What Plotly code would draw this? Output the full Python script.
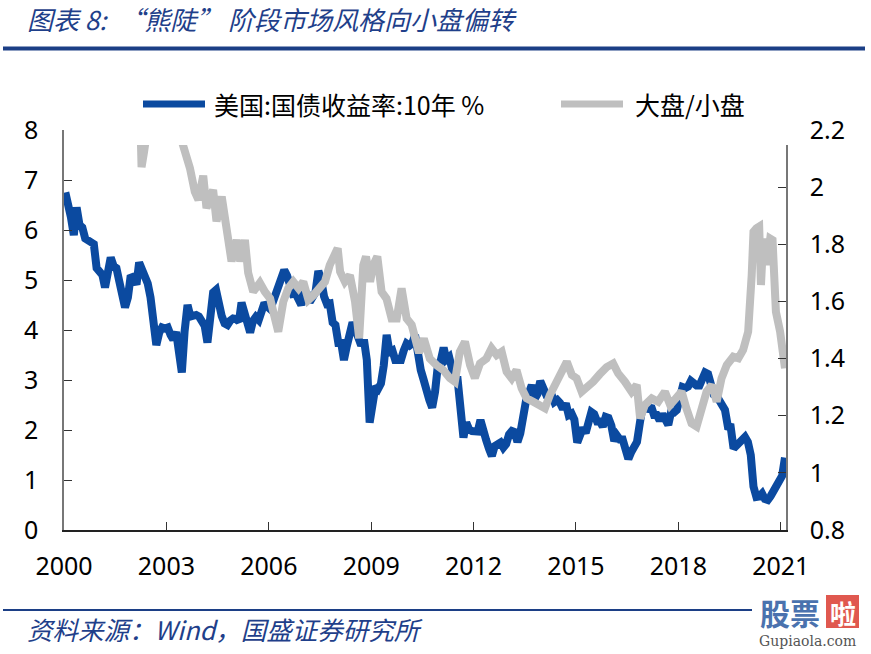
import pandas as pd
import plotly.graph_objects as go

# ---------------- data ----------------
# US 10Y Treasury yield (%), monthly, Jan 2000 - Feb 2021
us10y_start = "2000-01"
us10y_values = [
    6.75, 6.52, 6.26, 5.90, 6.45, 6.10, 6.05, 5.83, 5.80, 5.74, 5.72, 5.24,   # 2000
    5.16, 5.10, 4.85, 5.14, 5.45, 5.28, 5.24, 4.97, 4.73, 4.45, 4.65, 5.09,   # 2001
    5.04, 4.91, 5.35, 5.21, 5.16, 4.93, 4.65, 4.26, 3.70, 3.94, 4.05, 4.03,   # 2002
    4.05, 3.90, 3.81, 3.96, 3.57, 3.15, 3.98, 4.50, 4.27, 4.29, 4.30, 4.27,   # 2003
    4.15, 4.08, 3.75, 4.35, 4.75, 4.80, 4.50, 4.28, 4.13, 4.10, 4.19, 4.23,   # 2004
    4.22, 4.17, 4.55, 4.34, 4.14, 3.95, 4.18, 4.26, 4.20, 4.46, 4.54, 4.47,   # 2005
    4.42, 4.57, 4.72, 4.99, 5.11, 5.20, 5.09, 4.88, 4.72, 4.73, 4.60, 4.50,   # 2006
    4.76, 4.72, 4.56, 4.69, 4.75, 5.18, 5.00, 4.67, 4.52, 4.53, 4.15, 4.10,   # 2007
    3.74, 3.74, 3.40, 3.68, 3.88, 4.15, 4.01, 3.89, 3.69, 3.81, 3.40, 2.15,   # 2008
    2.52, 2.87, 2.82, 2.93, 3.29, 3.90, 3.56, 3.59, 3.40, 3.39, 3.40, 3.59,   # 2009
    3.73, 3.69, 3.73, 3.90, 3.42, 3.20, 3.01, 2.70, 2.60, 2.45, 2.76, 3.29,   # 2010
    3.39, 3.65, 3.41, 3.46, 3.17, 3.00, 3.00, 2.30, 1.85, 2.15, 2.01, 1.98,   # 2011
    1.97, 1.97, 2.20, 2.05, 1.80, 1.62, 1.48, 1.68, 1.72, 1.75, 1.65, 1.72,   # 2012
    1.91, 1.98, 1.96, 1.76, 1.93, 2.30, 2.58, 2.74, 2.90, 2.62, 2.72, 2.98,   # 2013
    2.86, 2.71, 2.72, 2.71, 2.56, 2.60, 2.54, 2.42, 2.53, 2.30, 2.33, 2.21,   # 2014
    1.75, 1.98, 2.04, 1.94, 2.20, 2.36, 2.32, 2.17, 2.17, 2.07, 2.26, 2.24,   # 2015
    2.09, 1.78, 1.89, 1.81, 1.81, 1.64, 1.42, 1.56, 1.63, 1.76, 2.14, 2.49,   # 2016
    2.43, 2.42, 2.48, 2.30, 2.30, 2.19, 2.32, 2.21, 2.10, 2.36, 2.35, 2.40,   # 2017
    2.58, 2.86, 2.84, 2.87, 2.98, 2.91, 2.89, 2.89, 3.00, 3.15, 3.12, 2.83,   # 2018
    2.71, 2.68, 2.57, 2.53, 2.40, 2.07, 2.06, 1.63, 1.70, 1.71, 1.81, 1.86,   # 2019
    1.76, 1.50, 0.87, 0.66, 0.67, 0.73, 0.62, 0.60, 0.68, 0.79, 0.87, 0.93,   # 2020
    1.08, 1.45,                                                               # 2021
]
us10y_dates = pd.date_range(us10y_start, periods=len(us10y_values), freq="MS") + pd.Timedelta(days=14)

# Large-cap / small-cap ratio (right axis); values above the visible range are clipped
ratio_dates = [
    "2002-03-20", "2002-03-25", "2002-04-10", "2002-05-05", "2002-06-01", "2002-06-20",
    "2003-06-01", "2003-06-25", "2003-09-10", "2003-11-01", "2003-12-10", "2004-01-30",
    "2004-03-05", "2004-05-15", "2004-06-20", "2004-08-15", "2004-10-08", "2004-11-28",
    "2005-01-22", "2005-03-01", "2005-04-20", "2005-05-25", "2005-07-18", "2005-09-27",
    "2005-11-20", "2006-01-15", "2006-02-18", "2006-04-12", "2006-06-05", "2006-07-28",
    "2006-09-20", "2006-11-15", "2007-01-05", "2007-03-01", "2007-04-20", "2007-07-01",
    "2007-08-25", "2007-10-15", "2007-12-10", "2008-01-08", "2008-02-03", "2008-03-25",
    "2008-05-18", "2008-07-12", "2008-08-25", "2008-10-08", "2008-11-06", "2008-12-20",
    "2009-01-22", "2009-03-07", "2009-04-22", "2009-06-13", "2009-08-07", "2009-10-01",
    "2009-11-22", "2010-01-15", "2010-03-10", "2010-05-01", "2010-05-28", "2010-07-18",
    "2010-09-20", "2010-12-01", "2011-02-10", "2011-04-22", "2011-06-15", "2011-08-07",
    "2011-10-01", "2011-11-25", "2012-01-15", "2012-03-10", "2012-05-18", "2012-07-12",
    "2012-09-05", "2012-10-28", "2012-12-20", "2013-02-12", "2013-04-05", "2013-05-30",
    "2013-07-22", "2013-10-01", "2013-12-12", "2014-02-03", "2014-03-28", "2014-05-22",
    "2014-07-13", "2014-09-25", "2014-11-18", "2015-01-08", "2015-03-03", "2015-04-23",
    "2015-07-05", "2015-09-12", "2015-11-25", "2016-02-03", "2016-03-28", "2016-06-08",
    "2016-08-18", "2016-10-12", "2016-11-18", "2017-01-08", "2017-03-22", "2017-05-30",
    "2017-08-10", "2017-10-05", "2017-12-15", "2018-02-05", "2018-03-28", "2018-05-22",
    "2018-07-15", "2018-09-05", "2018-10-30", "2018-12-25", "2019-02-15", "2019-04-08",
    "2019-06-03", "2019-08-12", "2019-10-05", "2019-11-25", "2020-01-18", "2020-02-25",
    "2020-03-15", "2020-04-15", "2020-05-15", "2020-06-03", "2020-06-28", "2020-08-05",
    "2020-09-10", "2020-10-05", "2020-11-10", "2020-12-25", "2021-01-22", "2021-02-15",
]
ratio_values = [
    2.35, 2.16, 2.07, 2.12, 2.18, 2.35,
    2.35, 2.15, 2.066, 1.984, 1.955, 2.04,
    1.927, 1.99, 1.88, 1.967, 1.83, 1.74,
    1.815, 1.74, 1.815, 1.70, 1.634, 1.665,
    1.634, 1.61, 1.564, 1.494, 1.599, 1.646,
    1.669, 1.646, 1.669, 1.605, 1.62, 1.646,
    1.669, 1.727, 1.762, 1.786, 1.704, 1.669,
    1.692, 1.599, 1.471, 1.727, 1.757, 1.669,
    1.727, 1.757, 1.634, 1.61, 1.54, 1.54,
    1.646, 1.54, 1.518, 1.459, 1.42, 1.47,
    1.40, 1.377, 1.36, 1.332, 1.319, 1.424,
    1.459, 1.377, 1.332, 1.383, 1.40, 1.436,
    1.4125, 1.424, 1.354, 1.331, 1.36, 1.296,
    1.261, 1.249, 1.2375, 1.226, 1.2725, 1.3075,
    1.331, 1.389, 1.3425, 1.331, 1.284, 1.296,
    1.319, 1.345, 1.37, 1.383, 1.348, 1.319,
    1.284, 1.3075, 1.191, 1.2375, 1.261, 1.249,
    1.284, 1.2375, 1.261, 1.284, 1.226, 1.173,
    1.162, 1.214, 1.284, 1.3075, 1.249, 1.331,
    1.3775, 1.4065, 1.401, 1.43, 1.494, 1.6925,
    1.844, 1.856, 1.862, 1.6575, 1.82, 1.7275,
    1.82, 1.815, 1.564, 1.494, 1.424, 1.366,
]

year_ticks = ["2000", "2003", "2006", "2009", "2012", "2015", "2018", "2021"]
left_range = [0, 8]
right_range = [0.8, 2.2]
x_range = ["2000-01-01", "2021-02-26"]

series_names = ["美国:国债收益率:10年 %", "大盘/小盘"]
title_text = "图表 8:  “熊陡” 阶段市场风格向小盘偏转"
source_text = "资料来源：Wind，国盛证券研究所"

# ---------------- style ----------------
BLUE = "#0B4AA0"
GRAY = "#BFBFBF"
NAVY = "#1F3F8A"
CJK = "Noto Sans CJK SC"
NUM = "Noto Sans"

W, H = 871, 654
L, R, T, B = 64, 786, 130, 530   # plot area in pixels


def px_x(px):
    return (px - L) / (R - L)


def px_y(py):
    return (B - py) / (B - T)


fig = go.Figure()
fig.add_trace(go.Scatter(x=us10y_dates, y=us10y_values, mode="lines",
                         name=series_names[0], line=dict(color=BLUE, width=8),
                         yaxis="y"))
fig.add_trace(go.Scatter(x=pd.to_datetime(ratio_dates), y=ratio_values, mode="lines",
                         name=series_names[1], line=dict(color=GRAY, width=8),
                         yaxis="y2"))

tickfont = dict(family=NUM, size=25, color="#000000")

fig.update_layout(
    width=W, height=H,
    margin=dict(l=L, r=W - R, t=T, b=H - B, pad=0),
    plot_bgcolor="white", paper_bgcolor="white",
    showlegend=False,
    xaxis=dict(
        type="date", range=x_range,
        tickmode="array", tickvals=[f"{y}-01-01" for y in year_ticks], ticktext=year_ticks,
        ticks="inside", ticklen=8, tickwidth=1.2, tickcolor="#333333",
        showline=True, linecolor="#222222", linewidth=2,
        showgrid=False, zeroline=False, tickfont=tickfont, ticklabelstandoff=13,
    ),
    yaxis=dict(
        range=left_range, dtick=1, tick0=0,
        ticks="inside", ticklen=8, tickwidth=1.2, tickcolor="#333333",
        showline=True, linecolor="#777777", linewidth=1.5,
        showgrid=False, zeroline=False, tickfont=tickfont, ticklabelstandoff=19,
    ),
    yaxis2=dict(
        range=right_range, dtick=0.2, tick0=0.8, overlaying="y", side="right",
        ticks="inside", ticklen=8, tickwidth=1.2, tickcolor="#333333",
        showline=True, linecolor="#777777", linewidth=1.5,
        showgrid=False, zeroline=False, tickfont=tickfont, ticklabelstandoff=17,
    ),
)

shapes = []
# mask clipping the top strip of the plot (as in the source chart)
shapes.append(dict(type="rect", xref="paper", yref="paper", layer="above",
                   x0=px_x(74), x1=px_x(796), y0=px_y(145), y1=px_y(128),
                   fillcolor="white", line=dict(width=0)))
# title rule
shapes.append(dict(type="rect", xref="paper", yref="paper",
                   x0=px_x(3), x1=px_x(865), y0=px_y(50.5), y1=px_y(46.5),
                   fillcolor="#1C3F86", line=dict(width=0)))
# footer rule
shapes.append(dict(type="rect", xref="paper", yref="paper",
                   x0=px_x(3), x1=px_x(752), y0=px_y(611), y1=px_y(609),
                   fillcolor="#1C3F86", line=dict(width=0)))
# legend samples
shapes.append(dict(type="line", xref="paper", yref="paper",
                   x0=px_x(143), x1=px_x(205), y0=px_y(104), y1=px_y(104),
                   line=dict(color=BLUE, width=7)))
shapes.append(dict(type="line", xref="paper", yref="paper",
                   x0=px_x(561), x1=px_x(623), y0=px_y(104), y1=px_y(104),
                   line=dict(color=GRAY, width=7)))
# watermark box
shapes.append(dict(type="rect", xref="paper", yref="paper",
                   x0=px_x(826), x1=px_x(859), y0=px_y(628), y1=px_y(595),
                   fillcolor="#E0584F", line=dict(width=0)))

annotations = [
    dict(text=title_text, x=px_x(25), y=px_y(19), xref="paper", yref="paper",
         xanchor="left", yanchor="middle", showarrow=False,
         font=dict(family=CJK, size=26, color=NAVY, style="italic")),
    dict(text=series_names[0], x=px_x(212), y=px_y(104), xref="paper", yref="paper",
         xanchor="left", yanchor="middle", showarrow=False,
         font=dict(family=CJK, size=25, color="#000000")),
    dict(text=series_names[1], x=px_x(633), y=px_y(104), xref="paper", yref="paper",
         xanchor="left", yanchor="middle", showarrow=False,
         font=dict(family=CJK, size=25, color="#000000")),
    dict(text=source_text, x=px_x(25), y=px_y(628), xref="paper", yref="paper",
         xanchor="left", yanchor="middle", showarrow=False,
         font=dict(family=CJK, size=25.5, color=NAVY, style="italic")),
    dict(text="<b>股票</b>", x=px_x(790), y=px_y(612), xref="paper", yref="paper",
         xanchor="center", yanchor="middle", showarrow=False,
         font=dict(family=CJK, size=30, color="#4A72AE")),
    dict(text="<b>啦</b>", x=px_x(842.5), y=px_y(612), xref="paper", yref="paper",
         xanchor="center", yanchor="middle", showarrow=False,
         font=dict(family=CJK, size=26, color="#FFFFFF")),
    dict(text="Gupiaola.com", x=px_x(807), y=px_y(641), xref="paper", yref="paper",
         xanchor="center", yanchor="middle", showarrow=False,
         font=dict(family="DejaVu Serif", size=14, color="#555555")),
]

fig.update_layout(shapes=shapes, annotations=annotations)
fig.write_html(
    "out.html",
    config={"displayModeBar": False},
    post_script="document.body.style.margin='0';document.body.style.padding='0';",
)
